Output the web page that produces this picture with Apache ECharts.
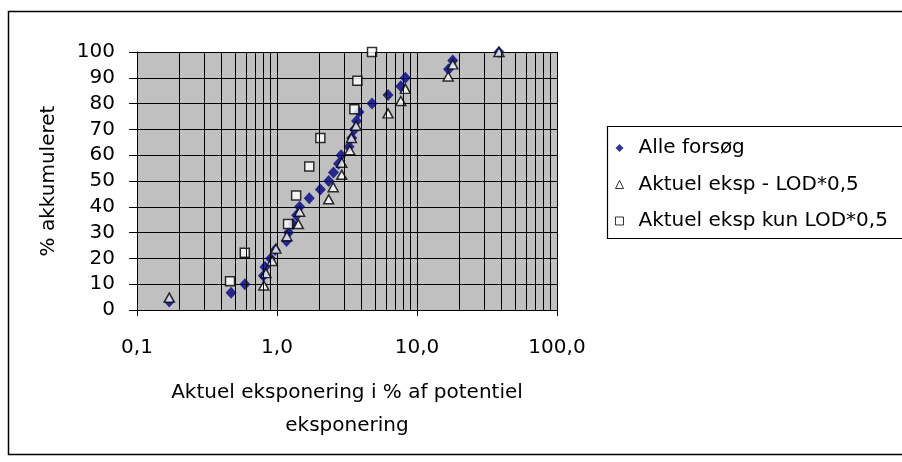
<!DOCTYPE html>
<html><head><meta charset="utf-8">
<script src="https://cdn.jsdelivr.net/npm/echarts@6/dist/echarts.min.js"></script>
<style>html,body{margin:0;padding:0;background:#fff}#c{width:902px;height:462px}</style>
</head><body><div id="c"></div>
<script>
// ---- data ----
const seriesNames = ['Alle forsøg', 'Aktuel eksp - LOD*0,5', 'Aktuel eksp kun LOD*0,5'];
const alleX = [0.17,0.47,0.59,0.80,0.82,0.90,0.97,1.17,1.21,1.30,1.38,1.45,1.70,2.04,2.34,2.53,2.75,2.87,3.27,3.42,3.57,3.70,3.85,4.77,6.21,7.66,8.26,16.8,18.0,38.5];
const alleY = [3.3,6.7,10,13.3,16.7,20,23.3,26.7,30,33.3,36.7,40,43.3,46.7,50,53.3,56.7,60,63.3,66.7,70,73.3,76.7,80,83.3,86.7,90,93.3,96.7,100];
const lodX = [0.17,0.805,0.833,0.924,0.982,1.178,1.42,1.45,2.34,2.52,2.90,2.90,3.31,3.40,3.67,6.21,7.66,8.26,16.7,18.0,38.5];
const lodY = [4.8,9.5,14.3,19.0,23.8,28.6,33.3,38.1,42.9,47.6,52.4,57.1,61.9,66.7,71.4,76.2,81.0,85.7,90.5,95.2,100];
const kunX = [0.462,0.589,1.20,1.37,1.70,2.04,3.57,3.75,4.77];
const kunY = [11.1,22.2,33.3,44.4,55.6,66.7,77.8,88.9,100];
const xTickValues = [0.1, 1, 10, 100];
const xTickLabels = ['0,1', '1,0', '10,0', '100,0'];
const minorGridX = [0.2,0.3,0.4,0.5,0.6,0.7,0.8,0.9,2,3,4,5,6,7,8,9,20,30,40,50,60,70,80,90];
const yTitle = '% akkumuleret';
const xTitle = 'Aktuel eksponering i % af potentiel\neksponering';

const zip = (xs, ys) => xs.map((x, i) => [x, ys[i]]);
const FONT = 'DejaVu Sans';

const chart = echarts.init(document.getElementById('c'), null, {renderer: 'canvas'});
chart.setOption({
  animation: false,
  backgroundColor: '#fff',
  textStyle: {fontFamily: FONT, color: '#000'},
  grid: {left: 137, right: 345, top: 52, bottom: 152, show: true, backgroundColor: '#c0c0c0', borderWidth: 0, containLabel: false},
  xAxis: {
    type: 'log', logBase: 10, min: 0.1, max: 100,
    name: xTitle, nameLocation: 'middle', nameGap: 66,
    nameTextStyle: {fontFamily: FONT, fontSize: 20, color: '#000', lineHeight: 33},
    axisLine: {show: true, lineStyle: {color: '#000', width: 1}},
    axisTick: {show: true, length: 6, lineStyle: {color: '#000'}},
    axisLabel: {fontFamily: FONT, fontSize: 20, color: '#000', margin: 28,
      formatter: v => { const i = xTickValues.findIndex(t => Math.abs(t - v) / t < 1e-6); return i >= 0 ? xTickLabels[i] : ''; }},
    splitLine: {show: true, lineStyle: {color: '#000', width: 1}}
  },
  yAxis: {
    type: 'value', min: 0, max: 100, interval: 10,
    name: yTitle, nameLocation: 'middle', nameGap: 78, nameRotate: 90,
    nameTextStyle: {fontFamily: FONT, fontSize: 20, color: '#000'},
    axisLine: {show: true, lineStyle: {color: '#000', width: 1}},
    axisTick: {show: true, length: 8, lineStyle: {color: '#000'}},
    axisLabel: {fontFamily: FONT, fontSize: 20, color: '#000', margin: 22},
    splitLine: {show: true, lineStyle: {color: '#000', width: 1}}
  },
  legend: {
    orient: 'vertical', left: 615, top: 138, padding: 0, itemGap: 16.5,
    itemWidth: 8, itemHeight: 8,
    textStyle: {fontFamily: FONT, fontSize: 20, color: '#000', padding: [0, 0, 0, 10]},
    data: [
      {name: seriesNames[0], icon: 'diamond'},
      {name: seriesNames[1], icon: 'triangle', itemStyle: {borderWidth: 1}},
      {name: seriesNames[2], icon: 'rect', itemStyle: {borderWidth: 1}}
    ]
  },
  graphic: [
    {type: 'rect', shape: {x: 607.5, y: 126.5, width: 320, height: 112}, style: {fill: null, stroke: '#000', lineWidth: 1.2}, silent: true},
    {type: 'rect', shape: {x: 8.5, y: 11.5, width: 920, height: 443}, style: {fill: null, stroke: '#000', lineWidth: 1.5}, silent: true}
  ],
  series: [
    {
      type: 'scatter', name: '_grid', silent: true, data: [], legendHoverLink: false,
      markLine: {silent: true, symbol: ['none', 'none'], label: {show: false},
        lineStyle: {color: '#000', width: 1, type: 'solid'},
        data: minorGridX.map(v => ({xAxis: v}))}
    },
    {type: 'scatter', name: seriesNames[0], data: zip(alleX, alleY), symbol: 'diamond', symbolSize: [11, 12], clip: false,
      itemStyle: {color: '#000080'}},
    {type: 'scatter', name: seriesNames[1], data: zip(lodX, lodY), symbol: 'triangle', symbolSize: [10, 9], clip: false,
      itemStyle: {color: '#fff', borderColor: '#000', borderWidth: 1.5}},
    {type: 'scatter', name: seriesNames[2], data: zip(kunX, kunY), symbol: 'rect', symbolSize: [9, 9], clip: false,
      itemStyle: {color: '#fff', borderColor: '#000', borderWidth: 1.5}}
  ]
});
</script>
</body></html>
